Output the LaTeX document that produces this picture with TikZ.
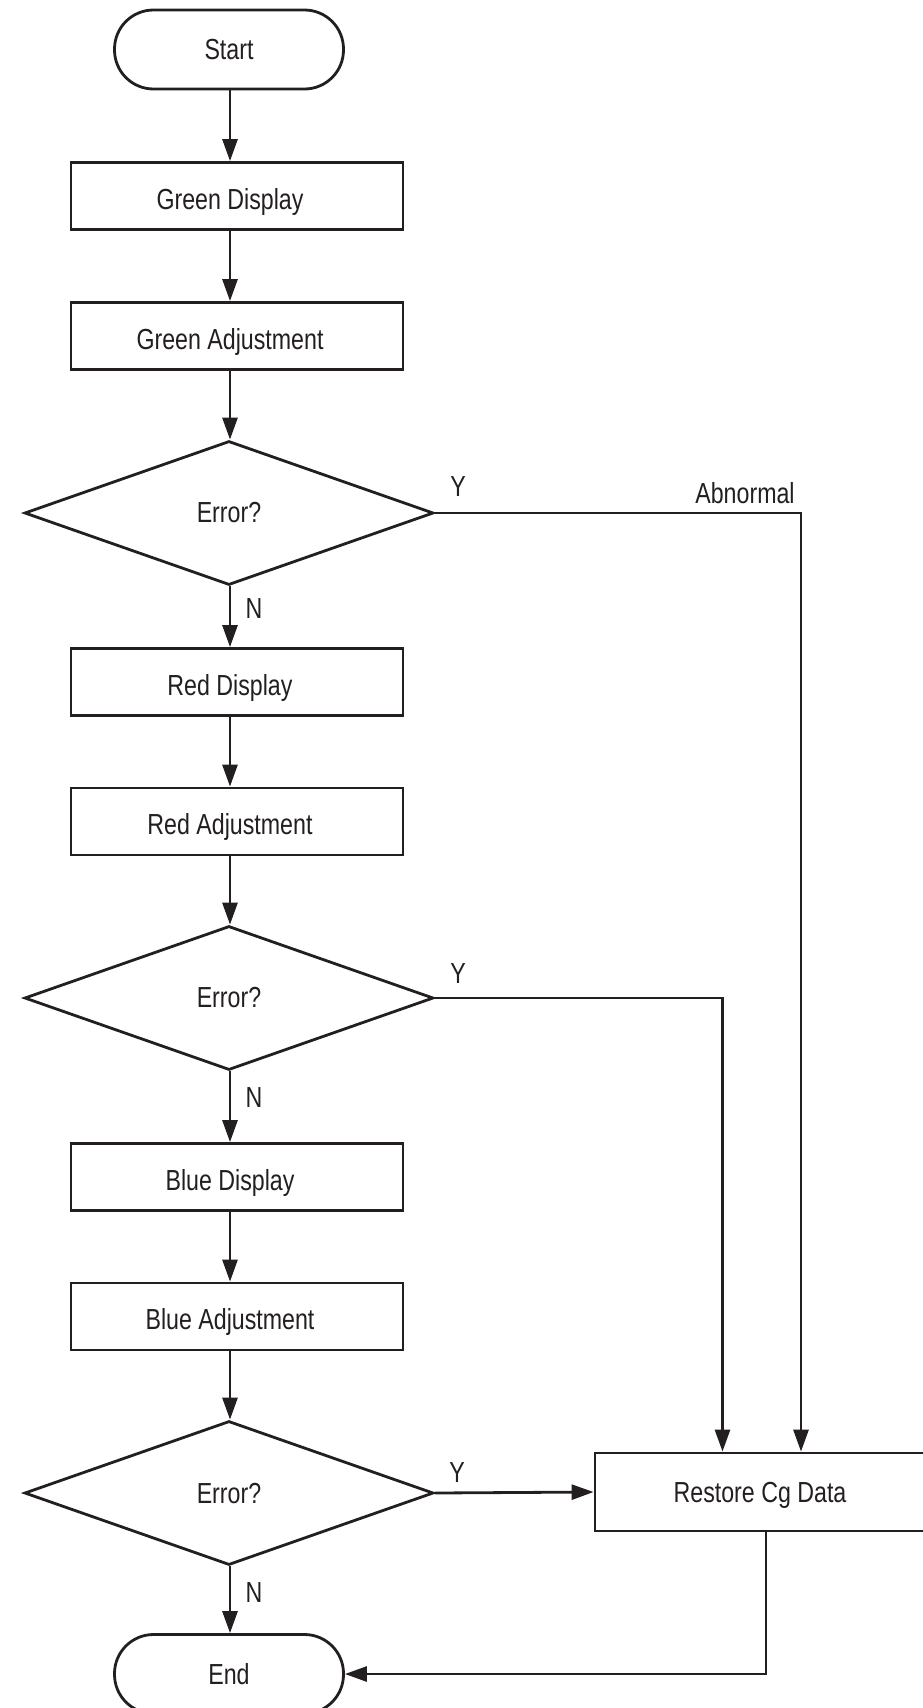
\documentclass[tikz,border=0pt]{standalone}
\usepackage{fontspec}
\setmainfont[FakeStretch=0.8]{Liberation Sans}
\usetikzlibrary{arrows.meta,shapes.geometric}
\definecolor{ink}{HTML}{231F20}
\begin{document}
\begin{tikzpicture}[x=1pt,y=-1pt,
  every node/.style={font=\fontsize{29}{34}\selectfont, text=ink},
  box/.style={draw=ink, line width=2.8pt, rectangle, minimum width=332pt, minimum height=67pt, inner sep=0pt, text height=26pt, text depth=0pt},
  term/.style={draw=ink, line width=2.8pt, rectangle, rounded corners=39pt, minimum width=229pt, minimum height=79pt, inner sep=0pt},
  dec/.style={draw=ink, line width=2.8pt, diamond, minimum width=409pt, minimum height=144pt, inner sep=0pt},
  lbl/.style={inner sep=0pt},
  conn/.style={draw=ink, line width=2.8pt},
  arr/.style={conn, -{Triangle[length=22pt,width=15pt]}}
]
\useasboundingbox (0,0) rectangle (922,1708);
\coordinate (c) at (230,0);

\node[term] (start) at (229,49.5) {Start};
\node[box] (gd) at (237,196) {Green Display\hspace*{14pt}};
\node[box] (ga) at (237,336) {Green Adjustment\hspace*{14pt}};
\node[dec] (d1) at (229,513) {Error?};
\node[box] (rd) at (237,682) {Red Display\hspace*{14pt}};
\node[box] (ra) at (237,821.5) {Red Adjustment\hspace*{14pt}};
\node[dec] (d2) at (229,998) {Error?};
\node[box] (bd) at (237,1177) {Blue Display\hspace*{14pt}};
\node[box] (ba) at (237,1316.5) {Blue Adjustment\hspace*{14pt}};
\node[dec] (d3) at (229,1493) {Error?};
\node[term] (end) at (229,1674) {End};
\node[box, minimum width=330pt, minimum height=78pt, text height=20pt] (restore) at (760,1492) {Restore Cg Data};

\draw[arr] (start.south -| c) -- (gd.north -| c);
\draw[arr] (gd.south -| c) -- (ga.north -| c);
\draw[arr] (ga.south -| c) -- (d1.north -| c);
\draw[arr] (d1.south -| c) -- (rd.north -| c);
\draw[arr] (rd.south -| c) -- (ra.north -| c);
\draw[arr] (ra.south -| c) -- (d2.north -| c);
\draw[arr] (d2.south -| c) -- (bd.north -| c);
\draw[arr] (bd.south -| c) -- (ba.north -| c);
\draw[arr] (ba.south -| c) -- (d3.north -| c);
\draw[arr] (d3.south -| c) -- (end.north -| c);

\draw[arr] (d1.east) -| ([xshift=41pt]restore.north);
\draw[arr] (d2.east) -| ([xshift=-37.5pt]restore.north);
\draw[arr] (d3.east) -- (restore.west);
\draw[arr] ([xshift=6pt]restore.south) |- (end.east);

\node[lbl] (y1) at (458,487) {Y};
\node[lbl] (ab) at (745,493) {Abnormal};
\node[lbl] (y2) at (458,974) {Y};
\node[lbl] (y3) at (457,1473) {Y};
\node[lbl] (n1) at (254,609) {N};
\node[lbl] (n2) at (254,1098) {N};
\node[lbl] (n3) at (254,1593) {N};
\end{tikzpicture}
\end{document}
